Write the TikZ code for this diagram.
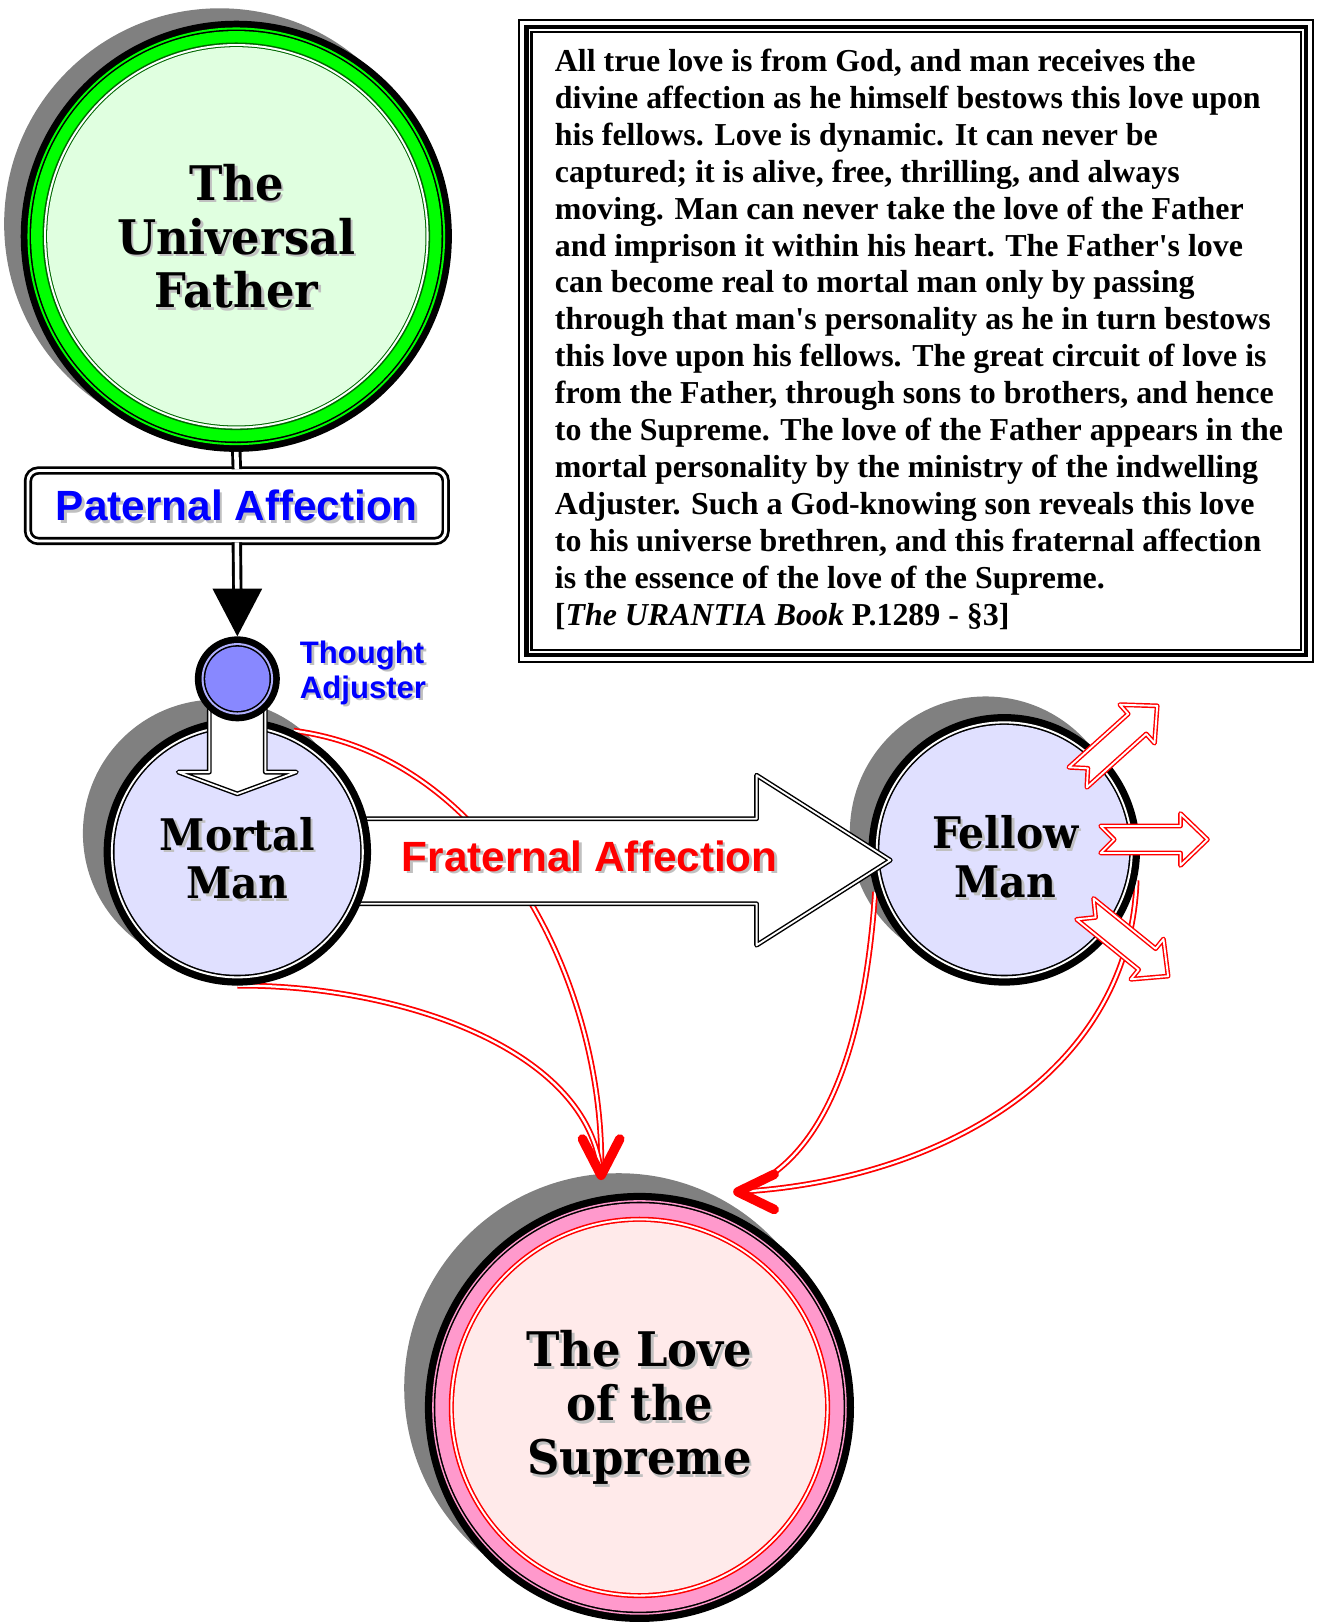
\documentclass[tikz,border=0pt]{standalone}
\usepackage{fontspec}
\setmainfont{Liberation Serif}[Ligatures=TeXOff]
\newfontfamily\circlefont[FakeStretch=0.94]{DejaVu Serif}
\newfontfamily\labelfont{Liberation Sans}
\usetikzlibrary{calc}

\definecolor{fathergreen}{HTML}{00FF00}
\definecolor{darkgreen}{HTML}{006600}
\definecolor{fatherfill}{HTML}{E0FFE0}
\definecolor{manfill}{HTML}{E0E0FF}
\definecolor{adjusterfill}{HTML}{8888FF}
\definecolor{adjusterring}{HTML}{B0B0FF}
\definecolor{supremepink}{HTML}{FF99CC}
\definecolor{supremefill}{HTML}{FFEAEA}
\definecolor{shadowgray}{HTML}{808080}
\definecolor{textshadow}{HTML}{C0C0C0}

\tikzset{
  hub/.style={circle, minimum size=#1, inner sep=0pt, outer sep=0pt},
  circletext/.style={font=\circlefont\bfseries\fontsize{23}{26}\selectfont, align=center, inner sep=0pt},
  mantext/.style={font=\circlefont\bfseries\fontsize{21}{23.5}\selectfont, align=center, inner sep=0pt},
  bluelabel/.style={font=\labelfont\bfseries\fontsize{20.4}{24}\selectfont, text=blue, inner sep=0pt},
  redlabel/.style={bluelabel, text=red},
  adjusterlabel/.style={font=\labelfont\bfseries\fontsize{15}{17}\selectfont, text=blue, align=left, inner sep=0pt, anchor=west},
  quotetext/.style={font=\bfseries\fontsize{15.4}{17.8}\selectfont, align=left, inner sep=0pt, anchor=north west},
  paternalbox/.style={rectangle, rounded corners=5pt, fill=white, draw=black, double=white,
    line width=1.3pt, double distance=1.4pt, minimum width=201.5pt, minimum height=34pt},
  blackpipe/.style={draw=black, double=white, line width=1.4pt, double distance=2.2pt},
  redpipe/.style={draw=red, double=white, line width=0.85pt, double distance=1.1pt},
  barb/.style={draw=red, line width=4.6pt, line cap=round, line join=round},
  hollow/.style={fill=white, draw=black, double=white, line width=0.7pt, double distance=0.9pt, line join=round},
  ripple/.style={fill=white, draw=red, double=white, line width=0.7pt, double distance=0.9pt, line join=round},
}

% text with a light drop shadow
\newcommand\castnode[4]{%
  \node[#1, text=textshadow] (#2-shade) at ($(#3)+(2.5,2.5)$) {#4};
  \node[#1] (#2) at (#3) {#4};}

\begin{document}
\begin{tikzpicture}[x=0.5pt, y=-0.5pt]
  \useasboundingbox (0,0) rectangle (1270,1566);

  % places of the circles
  \node[hub=208pt] (father)   at (228,228)  {};
  \node[hub=41pt]  (adjuster) at (229,655)  {};
  \node[hub=129pt] (mortal)   at (229,822)  {};
  \node[hub=131pt] (fellow)   at (969,820)  {};
  \node[hub=207pt] (supreme)  at (617,1358) {};

  \coordinate (topbarb)  at (580,1134);
  \coordinate (sidebarb) at (712,1150);

  % shadows
  \fill[shadowgray] ($(father.center)+(-16,-12)$)  circle[radius=208];
  \fill[shadowgray] ($(mortal.center)+(-20,-18)$)  circle[radius=129];
  \fill[shadowgray] ($(fellow.center)+(-18,-17)$)  circle[radius=131];
  \fill[shadowgray] ($(supreme.center)+(-20,-19)$) circle[radius=207];

  % circuit of love
  \draw[redpipe] (mortal.65)    .. controls (475,730)  and (585,950)  .. (topbarb);
  \draw[redpipe] (mortal.south) .. controls (380,950)  and (570,1010) .. (topbarb);
  \draw[redpipe] (fellow.198)   .. controls (835,1000) and (800,1120) .. (sidebarb);
  \draw[redpipe] (fellow.-13)   .. controls (1090,1040) and (900,1140) .. (sidebarb);

  \foreach \r/\c in {131/black, 124/white, 122/black, 120.5/manfill}
    \fill[\c] (fellow.center) circle[radius=\r];

  % fraternal affection
  \coordinate (fratip) at ($(fellow.center)+(-110,10)$);
  \draw[hollow] (fratip) -- ++(-129,-82) -- ++(0,42) -- ++(-430,0) -- ++(0,82)
    -- ++(430,0) -- ++(0,40) -- cycle;

  \foreach \r/\c in {129/black, 122/white, 120/black, 118.5/manfill}
    \fill[\c] (mortal.center) circle[radius=\r];

  \draw[hollow] (adjuster.center) ++(-27,30) -- ++(0,60) -- ++(-30,0) -- ++(57,21)
    -- ++(57,-21) -- ++(-30,0) -- ++(0,-60) -- cycle;

  \foreach \r/\c in {41/black, 34.5/adjusterring, 32.5/black, 31/adjusterfill}
    \fill[\c] (adjuster.center) circle[radius=\r];

  % love passed on to the fellows
  \foreach \ang/\dx/\dy in {42/71/-70, 0/93/-10, -39/78/57}{
    \begin{scope}[shift={($(fellow.center)+(\dx,\dy)$)}, rotate=\ang]
      \draw[ripple] (0,-13) -- (77,-13) -- (77,-25) -- (103,0) -- (77,25)
        -- (77,13) -- (0,13) -- (13,0) -- cycle;
    \end{scope}
  }

  \foreach \r/\c in {208/black, 201.5/fathergreen, 199.5/black, 198/fathergreen,
                     187/darkgreen, 185.5/white, 183.5/darkgreen, 182.5/fatherfill}
    \fill[\c] (father.center) circle[radius=\r];

  \foreach \r/\c in {207/black, 200/supremepink, 198.5/black, 197/supremepink,
                     184/red, 182.5/white, 180.5/red, 179/supremefill}
    \fill[\c] (supreme.center) circle[radius=\r];

  \draw[barb] ($(topbarb)+(-18,-35)$) -- (topbarb) -- ($(topbarb)+(18,-35)$);
  \draw[barb] ($(sidebarb)+(35,-17)$) -- (sidebarb) -- ($(sidebarb)+(35,17)$);

  % paternal affection
  \node[paternalbox] (paternal) at (228.5,488) {};
  \draw[blackpipe] (father.south) -- (paternal.north);
  \draw[blackpipe] (paternal.south) -- ($(adjuster.north)+(0,-44)$);
  \fill (adjuster.north) -- ++(-24,-46) -- ++(48,0) -- cycle;

  % texts
  \castnode{circletext}{father-text}{father.center}{The\\Universal\\Father}
  \castnode{mantext}{mortal-text}{$(mortal.center)+(0,6)$}{Mortal\\Man}
  \castnode{mantext}{fellow-text}{$(fellow.center)+(1,7)$}{Fellow\\Man}
  \castnode{circletext}{supreme-text}{$(supreme.center)+(0,0)$}{The Love\\of the\\Supreme}
  \castnode{bluelabel}{paternal-text}{paternal.center}{Paternal Affection}
  \castnode{redlabel}{fraternal-text}{569,826}{Fraternal Affection}
  \castnode{adjusterlabel}{adjuster-text}{289,649}{Thought\\Adjuster}

  % the quotation
  \node[rectangle, minimum width=384pt, minimum height=311pt, inner sep=0pt, outer sep=0pt,
    anchor=north west] (quoteframe) at (500,18) {};
  \draw[line width=1pt]   ($(quoteframe.north west)+(1,1)$)   rectangle ($(quoteframe.south east)+(-1,-1)$);
  \draw[line width=2.1pt] ($(quoteframe.north west)+(8,8)$)   rectangle ($(quoteframe.south east)+(-8,-8)$);
  \draw[line width=1.1pt] ($(quoteframe.north west)+(12.7,12.7)$) rectangle ($(quoteframe.south east)+(-12.7,-12.7)$);
  \node[quotetext] (quote) at (535,47) {All true love is from God, and man receives the\\
    divine affection as he himself bestows this love upon\\
    his fellows. Love is dynamic. It can never be\\
    captured; it is alive, free, thrilling, and always\\
    moving. Man can never take the love of the Father\\
    and imprison it within his heart. The Father's love\\
    can become real to mortal man only by passing\\
    through that man's personality as he in turn bestows\\
    this love upon his fellows. The great circuit of love is\\
    from the Father, through sons to brothers, and hence\\
    to the Supreme. The love of the Father appears in the\\
    mortal personality by the ministry of the indwelling\\
    Adjuster. Such a God-knowing son reveals this love\\
    to his universe brethren, and this fraternal affection\\
    is the essence of the love of the Supreme.\\
    {[}\textit{The URANTIA Book} P.1289 - §3{]}};
\end{tikzpicture}
\end{document}
